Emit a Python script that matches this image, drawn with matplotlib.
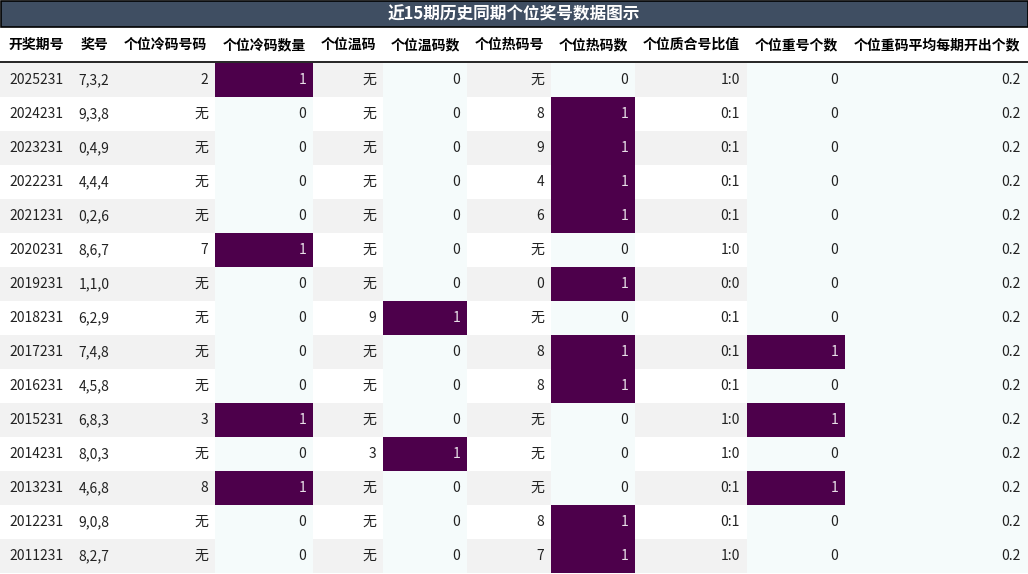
import matplotlib
matplotlib.use("Agg")
import matplotlib.pyplot as plt
from matplotlib.patches import Rectangle

plt.rcParams['font.family'] = ['Noto Sans CJK SC', 'DejaVu Sans']

title = "近15期历史同期个位奖号数据图示"
headers = ["开奖期号", "奖号", "个位冷码号码", "个位冷码数量", "个位温码", "个位温码数",
           "个位热码号", "个位热码数", "个位质合号比值", "个位重号个数", "个位重码平均每期开出个数"]
periods = ["2025231", "2024231", "2023231", "2022231", "2021231", "2020231", "2019231", "2018231",
           "2017231", "2016231", "2015231", "2014231", "2013231", "2012231", "2011231"]
numbers = ["7,3,2", "9,3,8", "0,4,9", "4,4,4", "0,2,6", "8,6,7", "1,1,0", "6,2,9",
           "7,4,8", "4,5,8", "6,8,3", "8,0,3", "4,6,8", "9,0,8", "8,2,7"]
cold_code = ["2", "无", "无", "无", "无", "7", "无", "无", "无", "无", "3", "无", "8", "无", "无"]
cold_cnt = [1, 0, 0, 0, 0, 1, 0, 0, 0, 0, 1, 0, 1, 0, 0]
warm_code = ["无", "无", "无", "无", "无", "无", "无", "9", "无", "无", "无", "3", "无", "无", "无"]
warm_cnt = [0, 0, 0, 0, 0, 0, 0, 1, 0, 0, 0, 1, 0, 0, 0]
hot_code = ["无", "8", "9", "4", "6", "无", "0", "无", "8", "8", "无", "无", "无", "8", "7"]
hot_cnt = [0, 1, 1, 1, 1, 0, 1, 0, 1, 1, 0, 0, 0, 1, 1]
ratio = ["1:0", "0:1", "0:1", "0:1", "0:1", "1:0", "0:0", "0:1", "0:1", "0:1", "1:0", "1:0", "0:1", "0:1", "1:0"]
repeat_cnt = [0, 0, 0, 0, 0, 0, 0, 0, 1, 0, 1, 0, 1, 0, 0]
repeat_avg = [0.2] * 15

W, H = 1028, 574
edges = [0, 72, 116, 215, 313, 383, 467, 551, 635, 747, 845, 1028]
count_cols = {3, 5, 7, 9}
top_title, top_head, top_rows, row_h = 26, 27, 63, 34

fig = plt.figure(figsize=(W / 100, H / 100), dpi=100)
ax = fig.add_axes([0, 0, 1, 1])
ax.set_xlim(0, W)
ax.set_ylim(H, 0)
ax.axis('off')

# title bar
ax.add_patch(Rectangle((0.5, 0.5), W - 1, top_title, facecolor='#3f4e62', edgecolor='black', lw=1.2))
ax.text(W / 2, top_title / 2 + 1, title, color='white', fontsize=12, fontweight='bold', ha='center', va='center')

# header
for i, h in enumerate(headers):
    ax.text((edges[i] + edges[i + 1]) / 2, (top_head + top_rows) / 2, h, fontsize=10, fontweight='bold',
            ha='center', va='center')
ax.plot([0, W], [top_rows - 1, top_rows - 1], color='black', lw=1.2)

purple = '#4d004b'
for r in range(len(periods)):
    y0 = top_rows + r * row_h
    base = '#f2f2f2' if r % 2 == 0 else 'white'
    vals = [periods[r], numbers[r], cold_code[r], cold_cnt[r], warm_code[r], warm_cnt[r],
            hot_code[r], hot_cnt[r], ratio[r], repeat_cnt[r], repeat_avg[r]]
    for c, v in enumerate(vals):
        x0, x1 = edges[c], edges[c + 1]
        color = base
        tc = '#222222'
        if c in count_cols or c == 10:
            color = '#f5fbfb'
        if c in count_cols and v == 1:
            color = purple
            tc = '#e8e0e8'
        ax.add_patch(Rectangle((x0, y0), x1 - x0, row_h, facecolor=color, edgecolor='none'))
        if c <= 1:
            ax.text((x0 + x1) / 2, y0 + row_h / 2, str(v), fontsize=10, ha='center', va='center', color=tc)
        else:
            ax.text(x1 - 7, y0 + row_h / 2, str(v), fontsize=10, ha='right', va='center', color=tc)

fig.savefig('out.png', dpi=100)
